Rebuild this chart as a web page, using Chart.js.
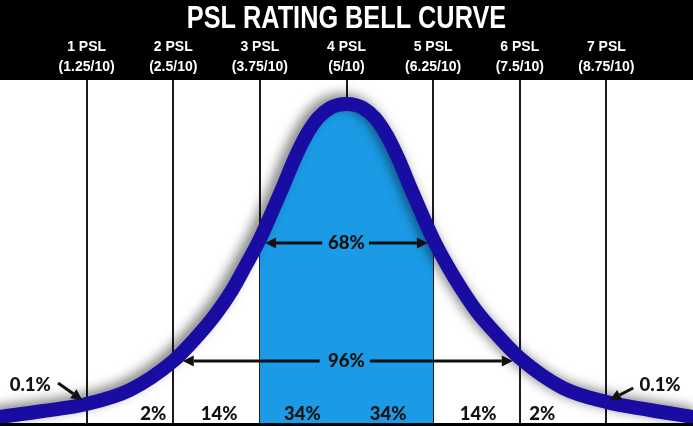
<!DOCTYPE html>
<html>
<head>
<meta charset="utf-8">
<script src="https://cdn.jsdelivr.net/npm/chart.js@4.4.1/dist/chart.umd.min.js"></script>
<style>
  html, body { margin: 0; padding: 0; background: #000; }
  #wrap { width: 693px; height: 426px; }
  canvas { display: block; background: #000; }
</style>
</head>
<body>
<div id="wrap"><canvas id="c" width="693" height="426"></canvas></div>
<script>
// ---- data ----
const chartTitle = 'PSL RATING BELL CURVE';
const tickValues = [1, 2, 3, 4, 5, 6, 7];
const pslLabels = ['1 PSL', '2 PSL', '3 PSL', '4 PSL', '5 PSL', '6 PSL', '7 PSL'];
const scoreLabels = ['(1.25/10)', '(2.5/10)', '(3.75/10)', '(5/10)', '(6.25/10)', '(7.5/10)', '(8.75/10)'];

// bell curve (x in PSL columns, y = height above baseline)
const curveX = [0, 0.5, 1, 1.5, 2, 2.25, 2.5, 2.68, 2.84, 3, 3.13, 3.26, 3.4, 3.53, 3.67, 3.81, 3.9, 4,
                4.1, 4.19, 4.33, 4.47, 4.6, 4.74, 4.87, 5, 5.16, 5.32, 5.5, 5.75, 6, 6.5, 7, 7.5, 8];
const curveY = [6, 12, 19, 33, 62, 84, 110, 133, 158, 184, 209, 235, 264, 287, 305, 315, 318, 319,
                318, 315, 305, 287, 264, 235, 209, 184, 158, 135, 112, 87, 65, 35, 21, 13, 6];
const fillFrom = 3, fillTo = 5;

// percentage labels
const bandLabels = ['2%', '14%', '34%', '34%', '14%', '2%'];
const bandLabelX = [1.77, 2.53, 3.49, 4.48, 5.52, 6.26];
const bandLabelY = 9;

const tailLabels = ['0.1%', '0.1%'];
const tailLabelX = [0.35, 7.62];
const tailLabelY = [38, 38];
const tailArrowFrom = [[0.67, 40], [7.31, 35]];
const tailArrowTo = [[0.95, 23], [7.04, 23]];

const rangeLabels = ['68%', '96%'];
const rangeCenterX = [4.0, 4.0];
const rangeY = [180, 62];
const rangeInner = [[3.72, 4.26], [3.69, 4.27]];
const rangeOuter = [[3.06, 4.94], [2.11, 5.92]];

// ---- build ----
const curvePts = curveX.map((x, i) => ({ x: x, y: curveY[i] }));
const fillPts = curvePts.filter(p => p.x >= fillFrom && p.x <= fillTo);

const bgPlugin = {
  id: 'bg',
  beforeDraw(chart) {
    const { ctx, chartArea: a } = chart;
    ctx.save();
    ctx.fillStyle = '#000';
    ctx.fillRect(0, 0, chart.width, chart.height);
    ctx.fillStyle = '#fff';
    ctx.fillRect(a.left, a.top, a.right - a.left, a.bottom - a.top);
    ctx.restore();
  }
};

const titlePlugin = {
  id: 'condTitle',
  afterDraw(chart) {
    const ctx = chart.ctx;
    ctx.save();
    ctx.fillStyle = '#fff';
    ctx.textAlign = 'center';
    ctx.textBaseline = 'middle';
    ctx.font = 'bold 32px "Liberation Sans", Arial, sans-serif';
    ctx.translate(chart.width / 2, 19);
    ctx.scale(0.79, 1);
    ctx.fillText(chartTitle, 0, 0);
    ctx.restore();
  }
};

const shadowPlugin = {
  id: 'shadow',
  beforeDatasetDraw(chart, args) {
    if (args.index === 1) {
      const ctx = chart.ctx;
      ctx.save();
      ctx.shadowColor = 'rgba(0,0,0,0.5)';
      ctx.shadowBlur = 12;
      ctx.shadowOffsetX = -5;
      ctx.shadowOffsetY = -3;
    }
  },
  afterDatasetDraw(chart, args) {
    if (args.index === 1) chart.ctx.restore();
  }
};

function arrow(ctx, x1, y1, x2, y2) {
  const ang = Math.atan2(y2 - y1, x2 - x1);
  const L = 11, W = 5.5;
  const bx = x2 - L * Math.cos(ang), by = y2 - L * Math.sin(ang);
  ctx.beginPath();
  ctx.moveTo(x1, y1);
  ctx.lineTo(bx, by);
  ctx.stroke();
  ctx.beginPath();
  ctx.moveTo(x2, y2);
  ctx.lineTo(bx + W * Math.sin(ang), by - W * Math.cos(ang));
  ctx.lineTo(bx - W * Math.sin(ang), by + W * Math.cos(ang));
  ctx.closePath();
  ctx.fill();
}

const annoPlugin = {
  id: 'anno',
  afterDatasetsDraw(chart) {
    const { ctx } = chart;
    const xs = chart.scales.x, ys = chart.scales.y;
    const X = v => xs.getPixelForValue(v), Y = v => ys.getPixelForValue(v);
    ctx.save();
    ctx.fillStyle = '#111';
    ctx.strokeStyle = '#111';
    ctx.lineWidth = 3;
    ctx.textAlign = 'center';
    ctx.textBaseline = 'middle';
    ctx.font = '900 18.5px Lato, "Open Sans", sans-serif';
    bandLabels.forEach((t, i) => ctx.fillText(t, X(bandLabelX[i]), Y(bandLabelY)));
    tailLabels.forEach((t, i) => {
      ctx.fillText(t, X(tailLabelX[i]), Y(tailLabelY[i]));
      arrow(ctx, X(tailArrowFrom[i][0]), Y(tailArrowFrom[i][1]), X(tailArrowTo[i][0]), Y(tailArrowTo[i][1]));
    });
    rangeLabels.forEach((t, i) => {
      const y = Y(rangeY[i]);
      ctx.fillText(t, X(rangeCenterX[i]), y);
      arrow(ctx, X(rangeInner[i][0]), y, X(rangeOuter[i][0]), y);
      arrow(ctx, X(rangeInner[i][1]), y, X(rangeOuter[i][1]), y);
    });
    ctx.restore();
  }
};

new Chart(document.getElementById('c'), {
  type: 'line',
  data: {
    datasets: [
      {
        data: fillPts,
        fill: 'origin',
        backgroundColor: '#1b9be6',
        borderWidth: 0,
        pointRadius: 0,
        cubicInterpolationMode: 'monotone',
        order: 2,
        clip: 0
      },
      {
        data: curvePts,
        fill: false,
        borderColor: '#190ca3',
        borderWidth: 14,
        pointRadius: 0,
        cubicInterpolationMode: 'monotone',
        borderCapStyle: 'round',
        order: 1,
        clip: 0
      }
    ]
  },
  options: {
    responsive: false,
    animation: false,
    events: [],
    layout: { padding: { top: 38, bottom: 3, left: 0, right: 0 } },
    plugins: {
      legend: { display: false },
      tooltip: { enabled: false },
      title: { display: false }
    },
    scales: {
      x: {
        type: 'linear',
        position: 'top',
        min: 0,
        max: 8,
        afterBuildTicks: s => { s.ticks = tickValues.map(v => ({ value: v })); },
        afterFit: s => { s.height = 42; },
        ticks: {
          color: '#fff',
          autoSkip: false,
          maxRotation: 0,
          padding: 3,
          font: { family: '"Liberation Sans", Arial, sans-serif', size: 14, weight: 'bold', lineHeight: 1.4 },
          callback: (v, i) => [pslLabels[i], scoreLabels[i]]
        },
        grid: { color: '#1c1c1c', lineWidth: 2, drawTicks: false },
        border: { display: false }
      },
      y: { display: false, min: 0, max: 343 }
    }
  },
  plugins: [bgPlugin, shadowPlugin, annoPlugin, titlePlugin]
});
</script>
</body>
</html>
